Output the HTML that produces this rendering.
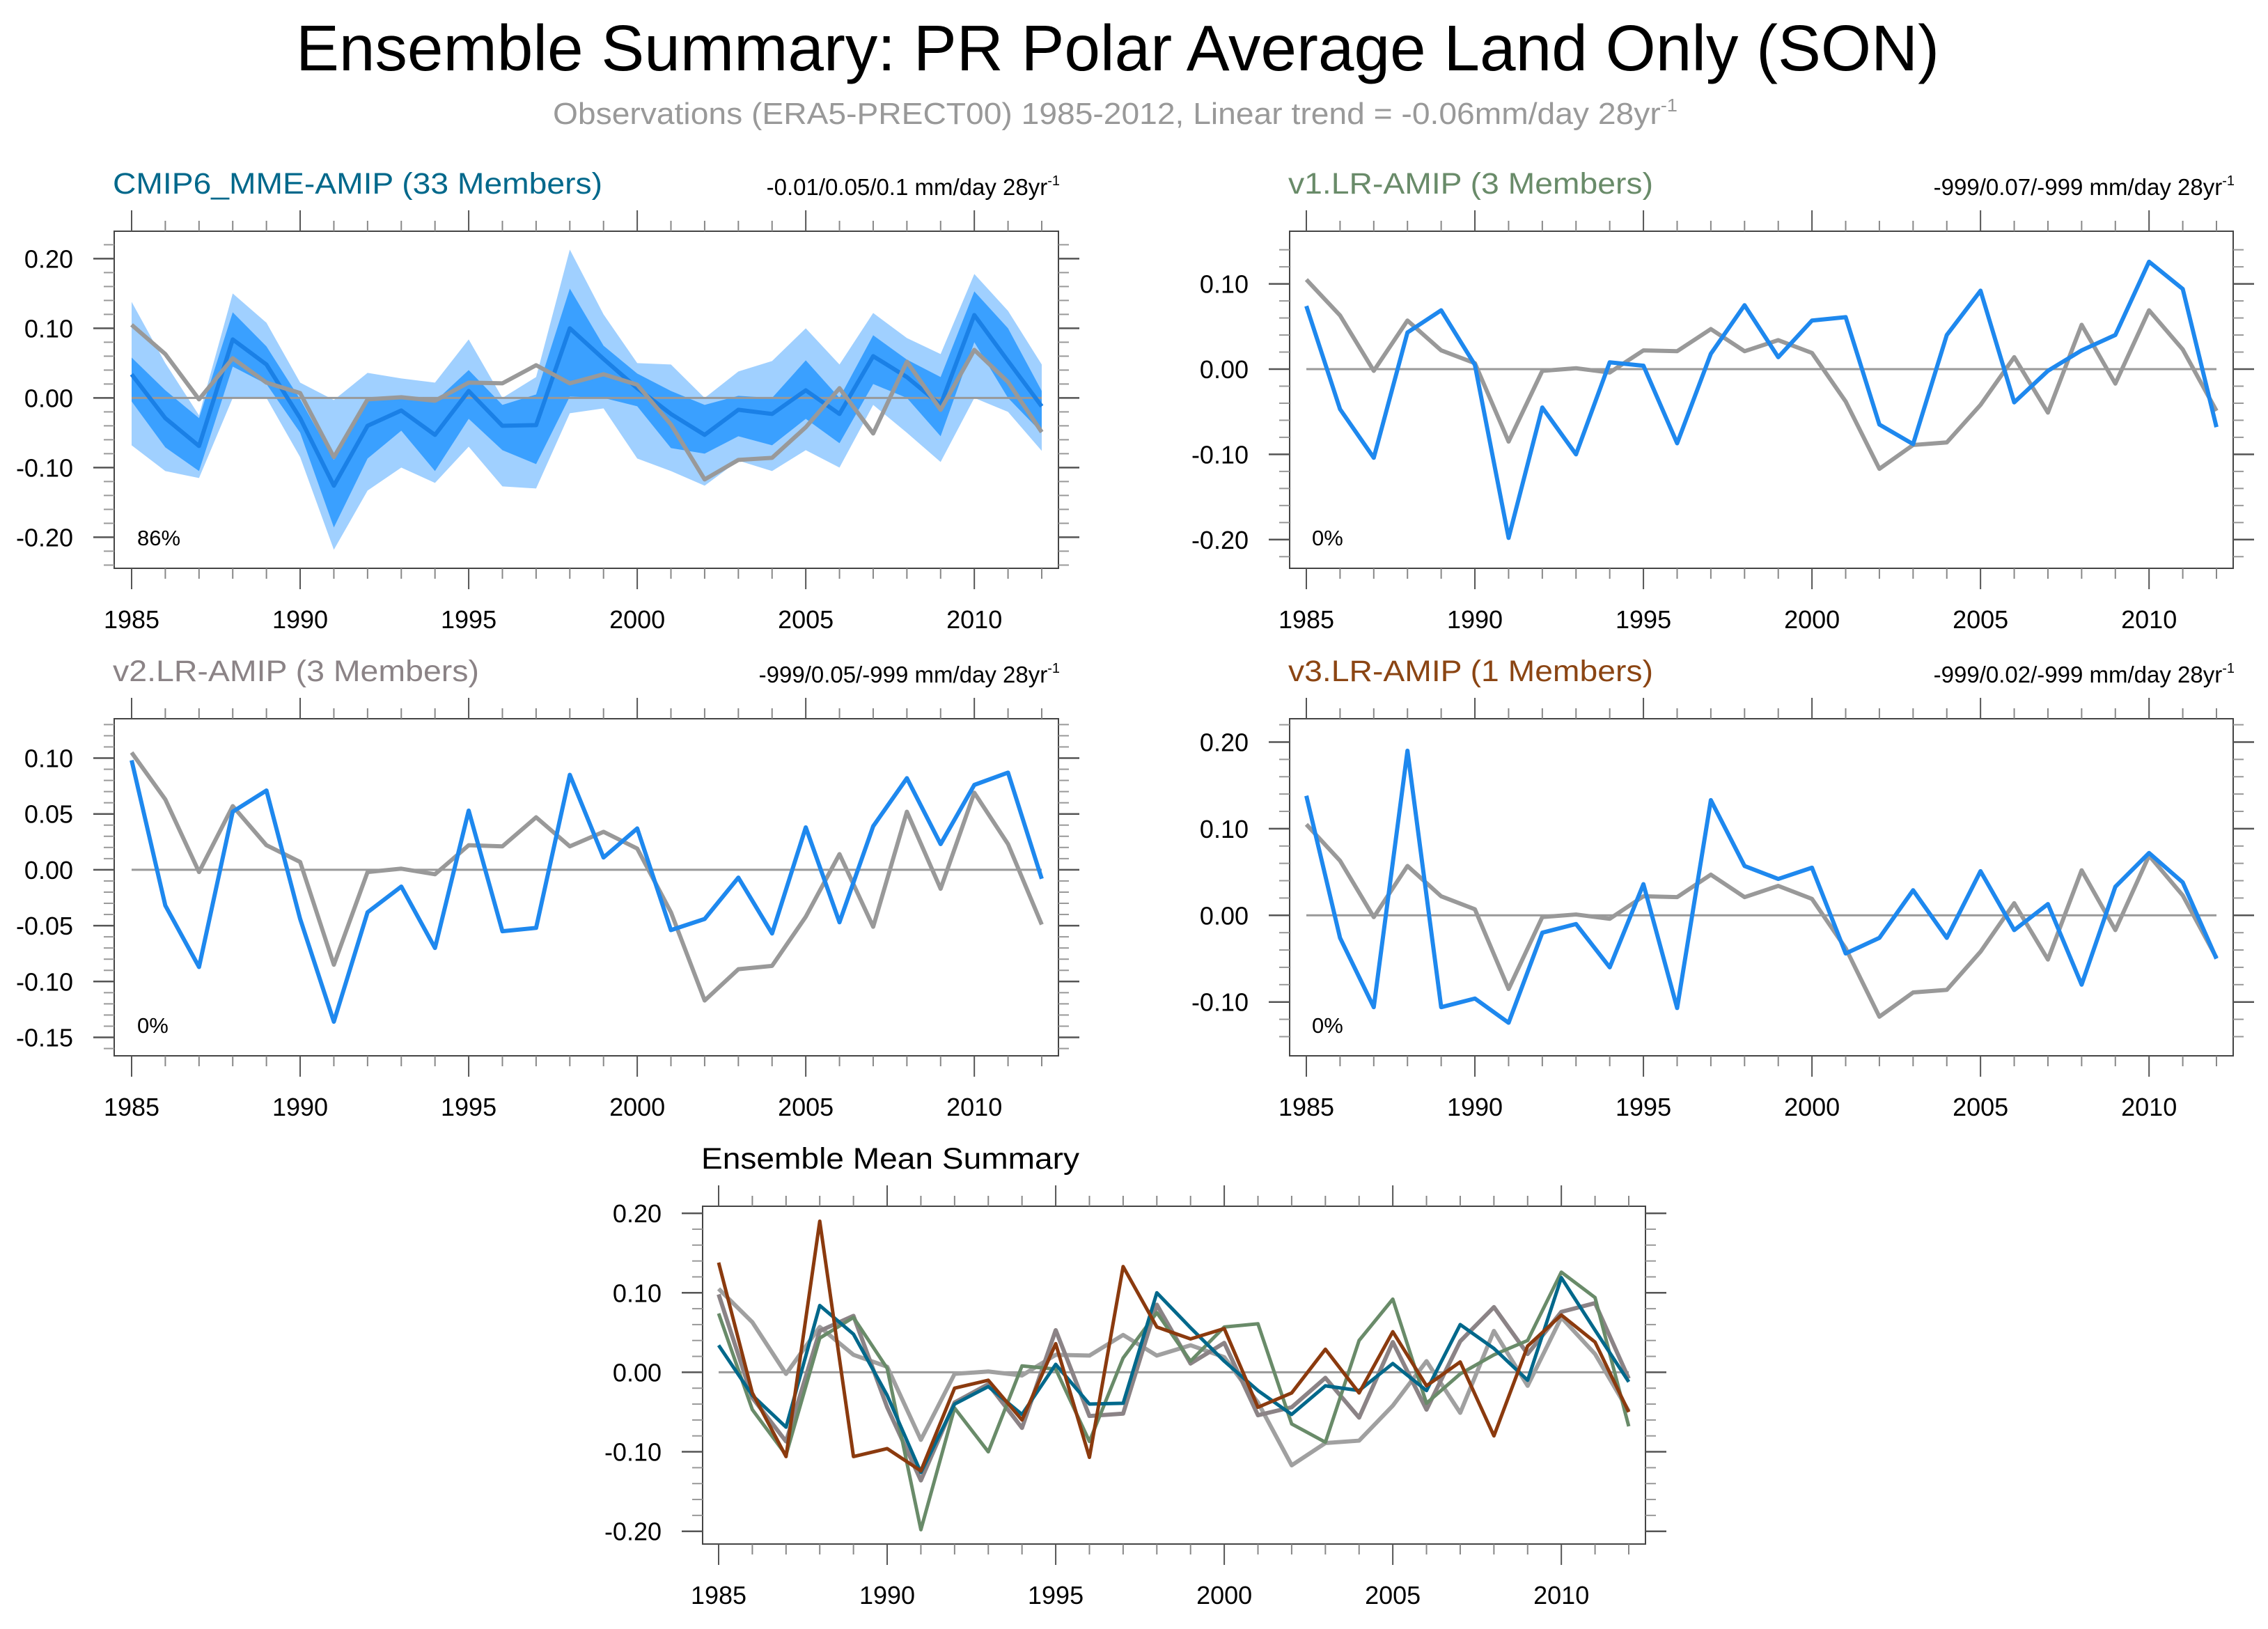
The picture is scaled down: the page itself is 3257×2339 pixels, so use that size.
<!DOCTYPE html>
<html><head><meta charset="utf-8"><style>
html,body{margin:0;padding:0;background:#fff;}
svg{display:block;font-family:"Liberation Sans",sans-serif;}
</style></head><body>
<svg id="chart" width="3257" height="2339" viewBox="0 0 3257 2339" xmlns="http://www.w3.org/2000/svg">
<text x="425" y="101" font-size="93" textLength="2360" lengthAdjust="spacingAndGlyphs" fill="#000">Ensemble Summary: PR Polar Average Land Only (SON)</text>
<text x="794" y="178" font-size="44" textLength="1615" lengthAdjust="spacingAndGlyphs" fill="#999">Observations (ERA5-PRECT00) 1985-2012, Linear trend = -0.06mm/day 28yr<tspan dy="-18" font-size="26">-1</tspan></text>
</svg>
<script>
const years = [1985,1986,1987,1988,1989,1990,1991,1992,1993,1994,1995,1996,1997,1998,1999,2000,2001,2002,2003,2004,2005,2006,2007,2008,2009,2010,2011,2012];
const obs = [0.105,0.063,-0.002,0.057,0.022,0.007,-0.085,-0.002,0.001,-0.004,0.022,0.021,0.047,0.021,0.034,0.019,-0.038,-0.117,-0.089,-0.086,-0.042,0.014,-0.051,0.052,-0.017,0.069,0.023,-0.049];
const mmeMean = [0.034,-0.029,-0.069,0.084,0.048,-0.029,-0.126,-0.040,-0.018,-0.053,0.010,-0.040,-0.039,0.100,0.056,0.014,-0.023,-0.053,-0.017,-0.023,0.011,-0.023,0.060,0.030,-0.010,0.119,0.053,-0.012];
const mmeInnerHi = [0.058,0.011,-0.029,0.123,0.074,-0.002,-0.089,0.000,0.000,-0.005,0.040,-0.010,0.005,0.157,0.075,0.035,0.010,-0.010,0.003,0.000,0.054,0.000,0.090,0.055,0.030,0.153,0.100,0.010];
const mmeInnerLo = [-0.005,-0.071,-0.105,0.045,0.020,-0.050,-0.186,-0.087,-0.047,-0.105,-0.030,-0.075,-0.095,0.002,0.000,-0.012,-0.072,-0.080,-0.055,-0.068,-0.030,-0.065,0.020,0.000,-0.055,0.080,0.000,-0.050];
const mmeOuterHi = [0.138,0.050,-0.025,0.150,0.108,0.022,-0.003,0.036,0.028,0.022,0.084,0.000,0.030,0.213,0.120,0.050,0.048,0.000,0.038,0.053,0.100,0.048,0.122,0.086,0.063,0.178,0.125,0.048];
const mmeOuterLo = [-0.068,-0.105,-0.115,0.000,0.000,-0.085,-0.218,-0.133,-0.100,-0.122,-0.070,-0.127,-0.130,-0.022,-0.015,-0.087,-0.105,-0.126,-0.090,-0.105,-0.075,-0.100,-0.010,-0.050,-0.092,0.000,-0.020,-0.076];
const v1 = [0.074,-0.047,-0.104,0.043,0.069,0.005,-0.198,-0.045,-0.100,0.008,0.004,-0.087,0.018,0.075,0.014,0.057,0.061,-0.065,-0.088,0.040,0.092,-0.039,-0.002,0.022,0.040,0.126,0.094,-0.068];
const v2 = [0.098,-0.032,-0.087,0.052,0.071,-0.044,-0.136,-0.038,-0.015,-0.070,0.053,-0.055,-0.052,0.085,0.011,0.037,-0.054,-0.044,-0.007,-0.057,0.038,-0.047,0.039,0.082,0.023,0.076,0.087,-0.008];
const v3 = [0.138,-0.026,-0.106,0.190,-0.106,-0.096,-0.124,-0.020,-0.010,-0.060,0.036,-0.107,0.133,0.057,0.042,0.055,-0.044,-0.026,0.029,-0.026,0.051,-0.017,0.013,-0.080,0.033,0.072,0.038,-0.050];
const xTickLabels = ["1985","1990","1995","2000","2005","2010"];
const ticksA = [0.20,0.10,0.00,-0.10,-0.20];
const ticksB = [0.10,0.05,0.00,-0.05,-0.10,-0.15];
const ticksC = [0.20,0.10,0.00,-0.10];
const ticksD = [0.10,0.00,-0.10,-0.20];

const NS="http://www.w3.org/2000/svg";
const svg=document.getElementById('chart');
function mk(tag,parent){const e=document.createElementNS(NS,tag);parent.appendChild(e);return e;}

function panel(cfg){
  const g=mk('g',svg);
  
  
  const X=yr=>cfg.xa+(yr-1985)*(cfg.xb-cfg.xa)/27;
  const Y=v=>cfg.y0-v*cfg.ppu;
  cfg.X=X;cfg.Y=Y;
  const fr=mk('rect',g);
  fr.setAttribute('x',cfg.l);fr.setAttribute('y',cfg.t);fr.setAttribute('width',cfg.r-cfg.l);fr.setAttribute('height',cfg.b-cfg.t);
  fr.setAttribute('fill','none');fr.setAttribute('stroke','#444');fr.setAttribute('stroke-width','2');
  
  
  years.forEach(yr=>{
    const maj=yr%5===0;const len=maj?30:15;const x=X(yr);
    [[cfg.t-len,cfg.t],[cfg.b,cfg.b+len]].forEach(p=>{
      const ln=mk('line',g);
      ln.setAttribute('x1',x);ln.setAttribute('x2',x);ln.setAttribute('y1',p[0]);ln.setAttribute('y2',p[1]);
      ln.setAttribute('stroke',maj?'#555':'#888');ln.setAttribute('stroke-width','2');
      
      
    });
  });
  xTickLabels.forEach(s=>{
    const t=mk('text',g);
    t.setAttribute('x',X(+s));t.setAttribute('y',cfg.b+86);t.setAttribute('font-size','36');t.setAttribute('text-anchor','middle');
    t.textContent=s;
    
    
  });
  const vTop=(cfg.y0-cfg.t)/cfg.ppu, vBot=(cfg.y0-cfg.b)/cfg.ppu;
  for(let k=Math.ceil(vBot/cfg.minor-1e-6);k*cfg.minor<=vTop+1e-9;k++){
    const v=k*cfg.minor;const y=Y(v);
    if(y<cfg.t+3||y>cfg.b-3)continue;
    [[cfg.l-15,cfg.l],[cfg.r,cfg.r+15]].forEach(p=>{
      const ln=mk('line',g);
      ln.setAttribute('x1',p[0]);ln.setAttribute('x2',p[1]);ln.setAttribute('y1',y);ln.setAttribute('y2',y);
      ln.setAttribute('stroke','#999');ln.setAttribute('stroke-width','2');
      
      
    });
  }
  cfg.ticks.forEach(v=>{
    const y=Y(v);
    [[cfg.l-30,cfg.l],[cfg.r,cfg.r+30]].forEach(p=>{
      const ln=mk('line',g);
      ln.setAttribute('x1',p[0]);ln.setAttribute('x2',p[1]);ln.setAttribute('y1',y);ln.setAttribute('y2',y);
      ln.setAttribute('stroke','#555');ln.setAttribute('stroke-width','2.5');
      
      
    });
    const t=mk('text',g);
    t.setAttribute('x',cfg.l-59);t.setAttribute('y',y+13);t.setAttribute('font-size','36');t.setAttribute('text-anchor','end');
    t.textContent=v.toFixed(2);
    
    
  });
  const tt=mk('text',g);
  tt.setAttribute('x',cfg.l-2);tt.setAttribute('y',cfg.t-54);tt.setAttribute('font-size','43');tt.setAttribute('fill',cfg.tcolor);
  tt.setAttribute('textLength',cfg.tlen);tt.setAttribute('lengthAdjust','spacingAndGlyphs');
  tt.textContent=cfg.title;
  
  
  if(cfg.trend){
    const tr=mk('text',g);
    tr.setAttribute('x',cfg.r+2);tr.setAttribute('y',cfg.t-52);tr.setAttribute('font-size','33');tr.setAttribute('text-anchor','end');
    tr.innerHTML=cfg.trend+'<tspan dy="-14" font-size="20">-1</tspan>';
    
    
  }
  if(cfg.pct){
    const pc=mk('text',g);
    pc.setAttribute('x',X(1985)+8);pc.setAttribute('y',cfg.b-33);pc.setAttribute('font-size','31');
    pc.textContent=cfg.pct;
    
    
  }
  cfg.g=g;
  return cfg;
}
function zero(cfg){
  const ln=mk('line',cfg.g);
  ln.setAttribute('x1',cfg.X(1985));ln.setAttribute('x2',cfg.X(2012));ln.setAttribute('y1',cfg.Y(0));ln.setAttribute('y2',cfg.Y(0));
  ln.setAttribute('stroke','#999');ln.setAttribute('stroke-width','3');
  
  
}
function series(cfg,vals,color,w,name){
  const p=mk('polyline',cfg.g);
  p.setAttribute('points',vals.map((v,i)=>cfg.X(years[i])+','+cfg.Y(v)).join(' '));
  p.setAttribute('fill','none');p.setAttribute('stroke',color);p.setAttribute('stroke-width',w);p.setAttribute('stroke-linejoin','round');
  
  
}
function band(cfg,hi,lo,color,name){
  const pts=hi.map((v,i)=>cfg.X(years[i])+','+cfg.Y(v)).concat(lo.map((v,i)=>cfg.X(years[i])+','+cfg.Y(v)).reverse());
  const p=mk('polygon',cfg.g);
  p.setAttribute('points',pts.join(' '));p.setAttribute('fill',color);
  
  
}
const BLUE='#1e88ee', OBS='#999999';

const p1=panel({name:'panel-cmip6-mme',l:164,r:1520,t:332,b:816,xa:189,xb:1496,y0:571.4,ppu:1000,ticks:ticksA,minor:0.02,title:'CMIP6_MME-AMIP (33 Members)',tcolor:'#00688b',tlen:703,trend:'-0.01/0.05/0.1 mm/day 28yr',pct:'86%'});
band(p1,mmeOuterHi,mmeOuterLo,'#a0d0ff','outer-spread-band');
band(p1,mmeInnerHi,mmeInnerLo,'#3aa0ff','inner-spread-band');
zero(p1);
series(p1,mmeMean,'#1a80e6',6,'ensemble-mean-line');
series(p1,obs,OBS,6,'observations-line');

const p2=panel({name:'panel-v1',l:1852,r:3207,t:332,b:816,xa:1876,xb:3183,y0:530,ppu:1224,ticks:ticksD,minor:0.02,title:'v1.LR-AMIP (3 Members)',tcolor:'#698b69',tlen:524,trend:'-999/0.07/-999 mm/day 28yr',pct:'0%'});
zero(p2);series(p2,obs,OBS,6,'observations-line');series(p2,v1,BLUE,6,'v1-line');

const p3=panel({name:'panel-v2',l:164,r:1520,t:1032,b:1516,xa:189,xb:1496,y0:1248.9,ppu:1604,ticks:ticksB,minor:0.01,title:'v2.LR-AMIP (3 Members)',tcolor:'#8b8386',tlen:526,trend:'-999/0.05/-999 mm/day 28yr',pct:'0%'});
zero(p3);series(p3,obs,OBS,6,'observations-line');series(p3,v2,BLUE,6,'v2-line');

const p4=panel({name:'panel-v3',l:1852,r:3207,t:1032,b:1516,xa:1876,xb:3183,y0:1314.3,ppu:1244,ticks:ticksC,minor:0.02,title:'v3.LR-AMIP (1 Members)',tcolor:'#8b4513',tlen:524,trend:'-999/0.02/-999 mm/day 28yr',pct:'0%'});
zero(p4);series(p4,obs,OBS,6,'observations-line');series(p4,v3,BLUE,6,'v3-line');

const p5=panel({name:'panel-ensemble-mean-summary',l:1009,r:2363,t:1732,b:2217,xa:1032,xb:2339,y0:1970.4,ppu:1141.5,ticks:ticksA,minor:0.02,title:'Ensemble Mean Summary',tcolor:'#000',tlen:543});
zero(p5);
series(p5,obs,'#a0a0a0',6,'observations-line');
series(p5,v2,'#8b8386',6,'v2-line');
series(p5,v1,'#698b69',5,'v1-line');
series(p5,mmeMean,'#00688b',5,'cmip6-mean-line');
series(p5,v3,'#8b3a0e',5,'v3-line');
</script>
</body></html>
